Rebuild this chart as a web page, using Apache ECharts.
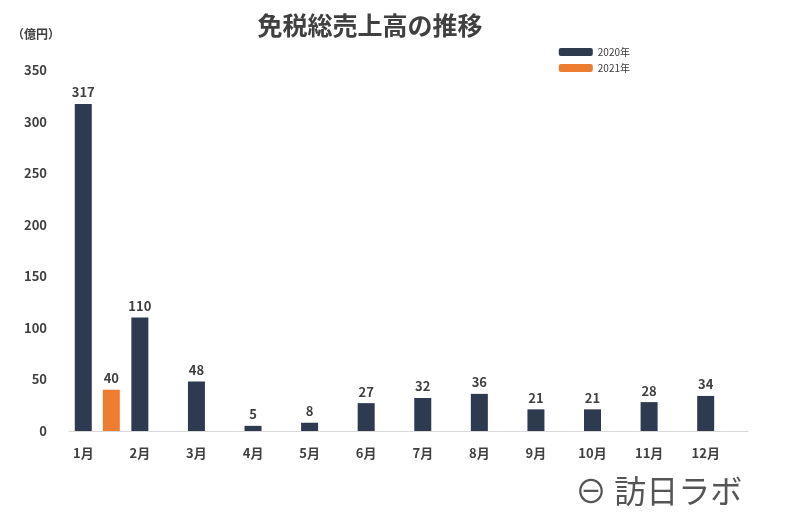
<!DOCTYPE html><html><head><meta charset="utf-8"><script src="https://cdn.jsdelivr.net/npm/echarts@6/dist/echarts.min.js"></script></head><body style="margin:0;background:#fff"><div id="c" style="width:800px;height:529px"></div><script>
const categories=['1月','2月','3月','4月','5月','6月','7月','8月','9月','10月','11月','12月'];
const s2020=[317,110,48,5,8,27,32,36,21,21,28,34];
const s2021=[40,null,null,null,null,null,null,null,null,null,null,null];
const yTicks=[0,50,100,150,200,250,300,350];
const F='"Noto Sans CJK JP", sans-serif';
const lbl={show:true,position:'top',color:'#404040',fontWeight:'bold',fontSize:13,fontFamily:F};
const ch=echarts.init(document.getElementById('c'));
ch.setOption({
 animation:false,
 title:{text:'免税総売上高の推移',left:365,top:8,textAlign:'center',textStyle:{fontSize:25,fontWeight:'bold',color:'#404040',fontFamily:F}},
 legend:{right:165,top:42,orient:'vertical',itemWidth:34,itemHeight:8,itemGap:6,textStyle:{fontSize:10,color:'#404040',fontFamily:F},data:['2020年','2021年']},
 graphic:[{type:'text',left:12,top:28,style:{text:'（億円）',fontSize:12,fontWeight:'bold',fill:'#404040',fontFamily:F}},
  {type:'text',left:575,top:475,style:{text:'⊖ 訪日ラボ',fontSize:32,fill:'#555',fontFamily:F}}],
 grid:{left:69,right:52,top:70,bottom:98},
 xAxis:{type:'category',data:categories,axisTick:{show:false},axisLine:{lineStyle:{color:'#d9d9d9'}},
  axisLabel:{color:'#404040',fontSize:13,fontWeight:'bold',fontFamily:F,padding:[8,28,0,0]}},
 yAxis:{type:'value',min:0,max:350,interval:50,splitLine:{show:false},axisLabel:{color:'#404040',fontSize:13,fontWeight:'bold',fontFamily:F,margin:22}},
 series:[{name:'2020年',type:'bar',data:s2020,barWidth:17,barGap:'65%',itemStyle:{color:'#2e3a4f'},label:lbl},
  {name:'2021年',type:'bar',data:s2021,barWidth:17,itemStyle:{color:'#ed7d31'},label:lbl}]
});
</script></body></html>
